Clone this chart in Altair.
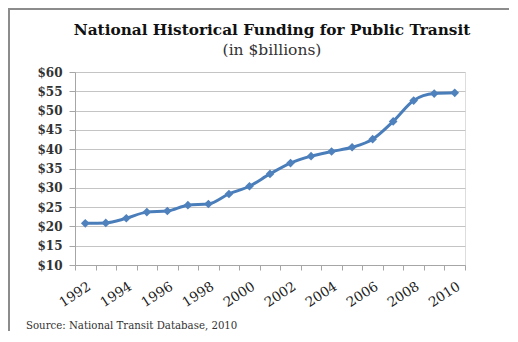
import altair as alt
import pandas as pd

years = [str(y) for y in range(1992, 2011)]
funding = [20.8, 20.9, 22.1, 23.7, 24.0, 25.5, 25.8, 28.4, 30.4, 33.6, 36.4,
           38.2, 39.4, 40.5, 42.6, 47.2, 52.6, 54.4, 54.6]
y_ticks = [10, 15, 20, 25, 30, 35, 40, 45, 50, 55, 60]
title_text = "National Historical Funding  for Public Transit"
subtitle_text = "(in $billions)"
source_text = "Source: National Transit Database, 2010"

df = pd.DataFrame({"year": years, "funding": funding})

FONT = "DejaVu Serif"
BLUE_LINE = "#4A7EBB"
BLUE_MARK = "#4F81BD"

x_enc = alt.X(
    "year:O",
    scale=alt.Scale(type="band", paddingInner=0, paddingOuter=0),
    axis=alt.Axis(
        title=None,
        labelAngle=-33,
        labelExpr="toNumber(datum.value) % 2 == 0 ? datum.label : ''",
        tickBand="extent",
        tickSize=5,
        tickColor="#a6a6a6",
        domainColor="#a6a6a6",
        labelFont=FONT,
        labelFontSize=13.5,
        labelColor="#222222",
        labelPadding=9,
        grid=False,
    ),
)
y_enc = alt.Y(
    "funding:Q",
    scale=alt.Scale(domain=[10, 60], nice=False, zero=False),
    axis=alt.Axis(
        title=None,
        values=y_ticks,
        labelExpr="'$' + datum.value",
        tickSize=6,
        tickColor="#a6a6a6",
        domainColor="#a6a6a6",
        gridColor="#c4c4c4",
        gridWidth=1.2,
        labelFont=FONT,
        labelFontSize=12,
        labelFontWeight="bold",
        labelColor="#333333",
        labelPadding=7,
    ),
)

base = alt.Chart(df).encode(x=x_enc, y=y_enc)
line = base.mark_line(color=BLUE_LINE, strokeWidth=3, interpolate="monotone")
pts = base.mark_point(shape="diamond", filled=True, size=75, color=BLUE_MARK, opacity=1)

txt = pd.DataFrame({"t": [title_text]})
title = alt.Chart(txt).mark_text(
    font=FONT, fontSize=15.3, fontWeight="bold", color="#111111", align="center", baseline="alphabetic"
).encode(text="t:N", x=alt.value(197), y=alt.value(-37))

sub = alt.Chart(pd.DataFrame({"t": [subtitle_text]})).mark_text(
    font=FONT, fontSize=15.5, color="#333333", align="center", baseline="alphabetic"
).encode(text="t:N", x=alt.value(197), y=alt.value(-17))

src = alt.Chart(pd.DataFrame({"t": [source_text]})).mark_text(
    font=FONT, fontSize=10.2, color="#333333", align="left", baseline="alphabetic"
).encode(text="t:N", x=alt.value(-49), y=alt.value(257))

frame_top = alt.Chart(txt).mark_rule(color="#8c8c8c", strokeWidth=2).encode(
    x=alt.value(-67), x2=alt.value(440), y=alt.value(-63)
)
frame_left = alt.Chart(txt).mark_rule(color="#8c8c8c", strokeWidth=2).encode(
    x=alt.value(-66), y=alt.value(-64), y2=alt.value(270)
)

chart = alt.layer(frame_top, frame_left, line, pts, title, sub, src).properties(
    width=390,
    height=193,
    autosize=alt.AutoSizeParams(type="none"),
    padding={"left": 67, "top": 64, "right": 44, "bottom": 66},
).configure_view(stroke=None).configure(background="white")

chart.save("out.html", embed_options={"renderer": "svg", "actions": False})
